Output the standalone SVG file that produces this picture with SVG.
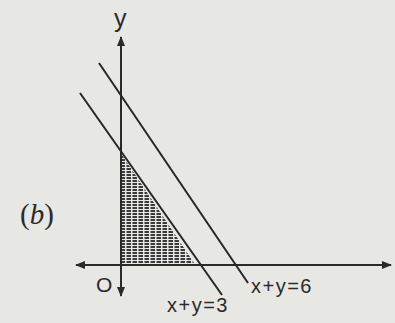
<svg xmlns="http://www.w3.org/2000/svg" width="395" height="323" viewBox="0 0 395 323">
<style>
.ln{stroke:#262626;stroke-width:2;fill:none}
.ax{stroke:#2a2a2a;stroke-width:2;fill:none}
.t{font-family:"Liberation Sans",Arial,sans-serif;fill:#2a2a2a}
</style>
<defs>
<marker id="ah" viewBox="0 0 10 10" refX="9" refY="5" markerWidth="5" markerHeight="5" orient="auto-start-reverse" markerUnits="strokeWidth">
<path d="M0,1 L10,5 L0,9 Z" fill="#2a2a2a"/>
</marker>
<pattern id="dash" width="6" height="3" patternUnits="userSpaceOnUse">
<rect x="0.5" y="0" width="4.5" height="2" fill="#3a3a3a"/>
</pattern>
<clipPath id="tri"><path d="M122,155 L122,263 L194,263 Z"/></clipPath>
</defs>
<rect width="395" height="323" fill="#e7e7e4"/>
<g id="shade" clip-path="url(#tri)">
<rect x="122" y="153" width="74" height="111" fill="url(#dash)"/>
</g>
<g id="axes">
<line class="ax" x1="76" y1="265" x2="391" y2="265" marker-start="url(#ah)" marker-end="url(#ah)"/>
<line class="ax" x1="121" y1="37" x2="121" y2="296" marker-start="url(#ah)" marker-end="url(#ah)"/>
</g>
<g id="connectors">
<line class="ln" x1="80" y1="93" x2="222" y2="295"/>
<line class="ln" x1="99" y1="63" x2="248" y2="283"/>
</g>
<g id="labels">
<text class="t" x="114" y="27" font-size="25">y</text>
<text class="t" x="96" y="292" font-size="21">O</text>
<text x="20" y="224" font-size="29" font-family="'Liberation Serif','Times New Roman',serif" fill="#2a2a2a">(<tspan font-style="italic">b</tspan>)</text>
<text class="t" x="251" y="293" font-size="20" letter-spacing="1.5">x+y=6</text>
<text class="t" x="167" y="312" font-size="20" letter-spacing="1.5">x+y=3</text>
</g>
</svg>
